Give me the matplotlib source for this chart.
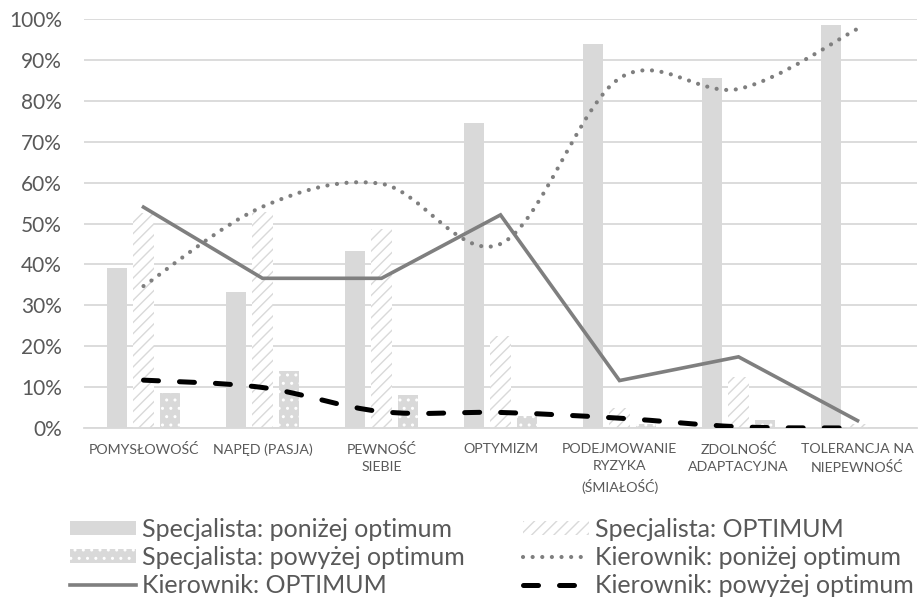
import numpy as np
import matplotlib
matplotlib.use("Agg")
import matplotlib.pyplot as plt
from matplotlib.path import Path
from matplotlib.patches import PathPatch, Patch
from matplotlib.lines import Line2D

categories = ["POMYSŁOWOŚĆ", "NAPĘD (PASJA)", "PEWNOŚĆ\nSIEBIE", "OPTYMIZM",
              "PODEJMOWANIE\nRYZYKA\n(ŚMIAŁOŚĆ)", "ZDOLNOŚĆ\nADAPTACYJNA",
              "TOLERANCJA NA\nNIEPEWNOŚĆ"]

spec_below = [39.2, 33.2, 43.3, 74.5, 94.0, 85.5, 98.5]
spec_opt = [52.5, 52.9, 48.6, 22.5, 4.8, 12.4, 1.1]
spec_above = [8.6, 13.9, 8.1, 2.9, 1.0, 2.0, 0.0]

kier_below = [34.7, 54.1, 59.7, 45.0, 85.5, 82.9, 97.6]
kier_opt = [54.0, 36.6, 36.6, 52.1, 11.6, 17.4, 1.8]
kier_above = [11.7, 9.9, 4.0, 3.8, 2.4, 0.3, 0.0]

plt.rcParams['font.family'] = ['Lato', 'DejaVu Sans']

GRAY_BAR = "#D9D9D9"
GRAY_LINE = "#7F7F7F"
TEXT = "#595959"


def smooth_path(xs, ys):
    # cubic Bezier through every point, Catmull-Rom style tangents
    pts = np.column_stack([xs, ys]).astype(float)
    verts = [pts[0]]
    codes = [Path.MOVETO]
    n = len(pts)
    for i in range(n - 1):
        p0 = pts[i - 1] if i > 0 else pts[i]
        p1, p2 = pts[i], pts[i + 1]
        p3 = pts[i + 2] if i + 2 < n else pts[i + 1]
        verts += [p1 + (p2 - p0) / 6, p2 - (p3 - p1) / 6, p2]
        codes += [Path.CURVE4] * 3
    return Path(verts, codes)


fig = plt.figure(figsize=(9.19, 5.99), dpi=100)
ax = fig.add_axes([84 / 919, 1 - 428 / 599, 833 / 919, 409 / 599])

x = np.arange(len(categories))
w = 0.17
step = 0.22

ax.bar(x - step, spec_below, w, color=GRAY_BAR, lw=0, zorder=2)
ax.bar(x, spec_opt, w, facecolor="white", edgecolor=GRAY_BAR, hatch="///", lw=0, zorder=2)
ax.bar(x + step, spec_above, w, facecolor=GRAY_BAR, edgecolor="white", hatch="..", lw=0, zorder=2)

dot_style = (0, (0.01, 2.3))
dash_style = (0, (3.0, 4.2))

ax.add_patch(PathPatch(smooth_path(x, kier_below), fill=False, edgecolor=GRAY_LINE,
                       lw=3.0, linestyle=dot_style, capstyle="round", zorder=3))
ax.plot(x, kier_opt, color=GRAY_LINE, lw=2.6, solid_joinstyle="miter", zorder=3)
ax.add_patch(PathPatch(smooth_path(x, kier_above), fill=False, edgecolor="black",
                       lw=3.6, linestyle=dash_style, capstyle="round", zorder=4))

ax.set_xlim(-0.5, len(categories) - 0.5)
ax.set_ylim(0, 100)
ax.set_yticks(np.arange(0, 101, 10))
ax.set_yticklabels([f"{v}%" for v in range(0, 101, 10)])
ax.set_xticks(x)
ax.set_xticklabels(categories, linespacing=1.5)
ax.tick_params(axis="y", length=0, pad=16, labelsize=15, labelcolor=TEXT)
ax.tick_params(axis="x", length=0, pad=11, labelsize=10.2, labelcolor=TEXT)

ax.yaxis.grid(True, color=GRAY_BAR, lw=1.3, zorder=0)
ax.set_axisbelow(True)
for s in ["top", "right", "left"]:
    ax.spines[s].set_visible(False)
ax.spines["bottom"].set_color(GRAY_BAR)
ax.spines["bottom"].set_linewidth(1.3)

handles = [
    Patch(facecolor=GRAY_BAR, lw=0),
    Patch(facecolor=GRAY_BAR, edgecolor="white", hatch="..", lw=0),
    Line2D([], [], color=GRAY_LINE, lw=2.6),
    Patch(facecolor="white", edgecolor=GRAY_BAR, hatch="///", lw=0),
    Line2D([], [], color=GRAY_LINE, lw=3.0, linestyle=dot_style, dash_capstyle="round"),
    Line2D([], [], color="black", lw=3.6, linestyle=dash_style, dash_capstyle="round"),
]
labels = ["Specjalista: poniżej optimum", "Specjalista: powyżej optimum", "Kierownik: OPTIMUM",
          "Specjalista: OPTIMUM", "Kierownik: poniżej optimum", "Kierownik: powyżej optimum"]
fig.legend(handles, labels, ncol=2, loc="lower left", bbox_to_anchor=(60 / 919, -0.013),
           frameon=False, fontsize=18, handlelength=2.65, handleheight=0.5,
           handletextpad=0.25, columnspacing=2.3, labelspacing=0.2,
           borderaxespad=0.0, labelcolor=TEXT)

fig.savefig("out.png", dpi=100)
